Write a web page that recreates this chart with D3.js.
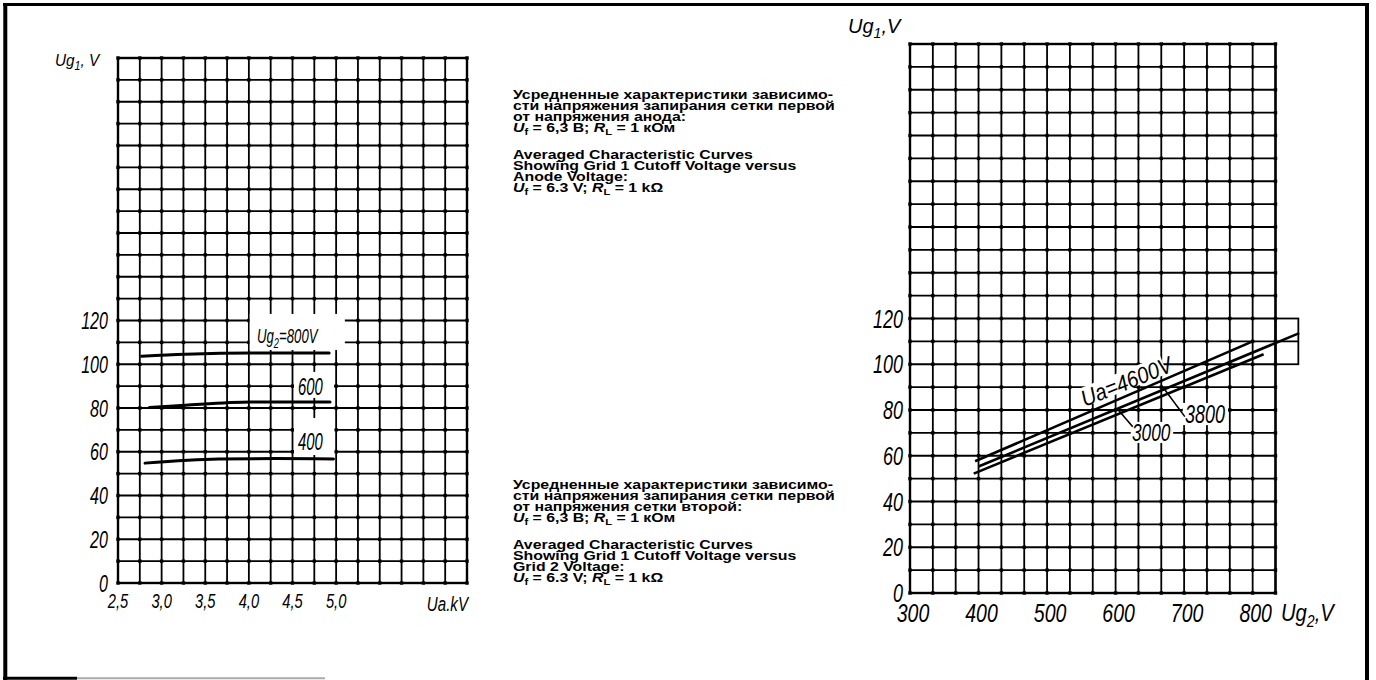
<!DOCTYPE html>
<html><head><meta charset="utf-8">
<script src="https://cdn.jsdelivr.net/npm/d3@7"></script>
<style>body{margin:0;background:#fff}svg{display:block}</style>
</head><body><svg id="c" width="1376" height="680"></svg>
<script>
// ---------- data ----------
const leftXTicks = [2.5, 3.0, 3.5, 4.0, 4.5, 5.0];
const leftXTickLabels = ["2,5", "3,0", "3,5", "4,0", "4,5", "5,0"];
const leftYTicks = [0, 20, 40, 60, 80, 100, 120];
const curveUg2_800 = [[2.77, 103.7], [3.27, 104.6], [4.03, 105.2], [4.92, 105.2]];
const curveUg2_600 = [[2.86, 80.2], [3.27, 81.3], [4.03, 82.8], [4.93, 82.8]];
const curveUg2_400 = [[2.81, 54.8], [3.65, 56.7], [4.3, 56.9], [4.97, 56.7]];

const rightXTicks = [300, 400, 500, 600, 700, 800];
const rightYTicks = [0, 20, 40, 60, 80, 100, 120];
const lineUa4600 = [[395, 57.6], [800, 110.0]];
const lineUa3800 = [[400, 55.3], [868, 113.6]];
const lineUa3000 = [[393, 52.2], [816, 104.4]];

const textBlock1 = [
  "Усредненные характеристики зависимо-",
  "сти напряжения запирания сетки первой",
  "от напряжения анода:"
];
const textBlock1en = ["Averaged Characteristic Curves", "Showing Grid 1 Cutoff Voltage versus", "Anode Voltage:"];
const textBlock2 = [
  "Усредненные характеристики зависимо-",
  "сти напряжения запирания сетки первой",
  "от напряжения сетки второй:"
];
const textBlock2en = ["Averaged Characteristic Curves", "Showing Grid 1 Cutoff Voltage versus", "Grid 2 Voltage:"];

// ---------- helpers ----------
const svg = d3.select('#c');
const FONT = '"Liberation Sans", Arial, Helvetica, sans-serif';

function label(parent, x, y, parts, o = {}) {
  const size = o.size || 22, sx = o.sx || 0.7, anchor = o.anchor || 'start', rot = o.rot || 0;
  const g = parent.append('g').attr('transform', `translate(${x},${y}) rotate(${rot}) scale(${sx},1)`);
  const t = g.append('text').attr('font-family', FONT).attr('font-size', size)
    .attr('font-style', o.italic === false ? 'normal' : 'italic')
    .attr('font-weight', o.weight || 'normal').attr('text-anchor', anchor).attr('fill', '#000');
  if (!Array.isArray(parts)) parts = [parts];
  let shift = 0;
  parts.forEach(p => {
    if (typeof p === 'string') p = { t: p };
    const ts = t.append('tspan').text(p.t);
    const target = p.sub ? size * 0.25 : 0;
    if (target !== shift) { ts.attr('dy', target - shift); shift = target; }
    if (p.sub) ts.attr('font-size', size * 0.7);
    if (p.i) ts.attr('font-style', 'italic');
  });
  return g;
}

function drawGrid(g, x, y, xs, ys) {
  const [x0, x1] = x.range(), [y0, y1] = y.range();
  g.selectAll(null).data(xs).enter().append('line')
    .attr('x1', d => x(d)).attr('x2', d => x(d)).attr('y1', y0).attr('y2', y1)
    .attr('stroke', '#000').attr('stroke-width', 1.8);
  g.selectAll(null).data(ys).enter().append('line')
    .attr('y1', d => y(d)).attr('y2', d => y(d)).attr('x1', x0).attr('x2', x1)
    .attr('stroke', '#000').attr('stroke-width', 1.8);
  const pts = d3.cross(xs, ys);
  g.selectAll(null).data(pts).enter().append('rect')
    .attr('x', d => x(d[0]) - 1.7).attr('y', d => y(d[1]) - 1.7).attr('width', 3.4).attr('height', 3.4).attr('fill', '#000');
  g.append('rect').attr('x', x0).attr('y', y1).attr('width', x1 - x0).attr('height', y0 - y1)
    .attr('fill', 'none').attr('stroke', '#000').attr('stroke-width', 2.4);
}

function mask(g, x, y, xa, xb, ya, yb) {
  g.append('rect').attr('x', x(xa)).attr('y', y(ya)).attr('width', x(xb) - x(xa)).attr('height', y(yb) - y(ya))
    .attr('fill', '#fff');
}

// ---------- outer frame ----------
svg.append('line').attr('x1', 3).attr('x2', 1369).attr('y1', 4.5).attr('y2', 4.5).attr('stroke', '#000').attr('stroke-width', 3);
svg.append('line').attr('x1', 5.3).attr('x2', 5.3).attr('y1', 3).attr('y2', 680).attr('stroke', '#000').attr('stroke-width', 4);
svg.append('line').attr('x1', 1367).attr('x2', 1367).attr('y1', 3).attr('y2', 680).attr('stroke', '#000').attr('stroke-width', 4);
svg.append('line').attr('x1', 3).attr('x2', 77).attr('y1', 678.3).attr('y2', 678.3).attr('stroke', '#000').attr('stroke-width', 3);
svg.append('line').attr('x1', 77).attr('x2', 325).attr('y1', 678.3).attr('y2', 678.3).attr('stroke', '#aaa').attr('stroke-width', 2);

// ---------- left chart ----------
const L = svg.append('g');
const xL = d3.scaleLinear().domain([2.5, 6.5]).range([118, 467]);
const yL = d3.scaleLinear().domain([0, 240]).range([583, 58]);
drawGrid(L, xL, yL, d3.range(0, 17).map(i => 2.5 + i * 0.25), d3.range(0, 241, 10));
mask(L, xL, yL, 4.01, 5.1, 123, 106.5);
mask(L, xL, yL, 4.517, 4.976, 96.5, 84.6);
mask(L, xL, yL, 4.517, 4.98, 75.4, 58.5);

const lineL = d3.line().x(d => xL(d[0])).y(d => yL(d[1])).curve(d3.curveMonotoneX);
[curveUg2_800, curveUg2_600, curveUg2_400].forEach(c => {
  L.append('path').attr('d', lineL(c)).attr('fill', 'none').attr('stroke', '#000').attr('stroke-width', 3).attr('stroke-linecap', 'round');
});

leftYTicks.forEach(v => label(L, 108, yL(v) + 8.5, String(v), { size: 23, sx: 0.7, anchor: 'end' }));
leftXTicks.forEach((v, i) => label(L, xL(v), 608, leftXTickLabels[i], { size: 21, sx: 0.7, anchor: 'middle' }));
label(L, 468, 611, "Ua.kV", { size: 21, sx: 0.72, anchor: 'end' });
label(L, 55, 66, ["Ug", { t: "1", sub: true }, ", V"], { size: 17, sx: 0.9 });
label(L, 257, 343, ["Ug", { t: "2", sub: true }, "=800V"], { size: 20, sx: 0.66 });
label(L, 298, 395, "600", { size: 24, sx: 0.62 });
label(L, 298, 450, "400", { size: 24, sx: 0.62 });

// ---------- right chart ----------
const R = svg.append('g');
const xR = d3.scaleLinear().domain([300, 300 + 16 * 100 / 3]).range([910, 1275.5]);
const yR = d3.scaleLinear().domain([0, 240]).range([593, 44]);
drawGrid(R, xR, yR, d3.range(0, 17).map(i => 300 + i * 100 / 3), d3.range(0, 241, 10));
// extension cell column
const ext0 = 300 + 16 * 100 / 3, ext1 = 300 + 17 * 100 / 3;
R.append('rect').attr('x', xR(ext0)).attr('y', yR(120)).attr('width', xR(ext1) - xR(ext0)).attr('height', yR(100) - yR(120))
  .attr('fill', 'none').attr('stroke', '#000').attr('stroke-width', 1.8);
R.append('line').attr('x1', xR(ext0)).attr('x2', xR(ext1)).attr('y1', yR(110)).attr('y2', yR(110)).attr('stroke', '#000').attr('stroke-width', 1.8);

// label masks
mask(R, xR, yR, 698, 764, 83.1, 73.4);
mask(R, xR, yR, 622, 684, 74.8, 65.6);
const uaX = xR(555), uaY = yR(81.3);
R.append('rect').attr('transform', `translate(${uaX},${uaY}) rotate(-22)`).attr('x', -3).attr('y', -19).attr('width', 92).attr('height', 19).attr('fill', '#fff');

const lineR = d3.line().x(d => xR(d[0])).y(d => yR(d[1]));
[lineUa4600, lineUa3800, lineUa3000].forEach(c => {
  R.append('path').attr('d', lineR(c)).attr('fill', 'none').attr('stroke', '#000').attr('stroke-width', 2.6);
});
R.append('path').attr('d', lineR([[670, 89.6], [701, 77.1]])).attr('stroke', '#000').attr('stroke-width', 1.6).attr('fill', 'none');
R.append('path').attr('d', lineR([[604, 80.0], [625, 72.7]])).attr('stroke', '#000').attr('stroke-width', 1.6).attr('fill', 'none');

label(R, uaX, uaY, "Ua=4600V", { size: 23, sx: 0.88, rot: -22 });
label(R, 1185, 423, "3800", { size: 25, sx: 0.72 });
label(R, 1132, 441, "3000", { size: 24, sx: 0.72 });

rightYTicks.forEach(v => label(R, 903, yR(v) + 9, String(v), { size: 25, sx: 0.72, anchor: 'end' }));
rightXTicks.forEach(v => label(R, xR(v) + 3, 622, String(v), { size: 25, sx: 0.78, anchor: 'middle' }));
label(R, 1281, 621, ["Ug", { t: "2", sub: true }, ",V"], { size: 23, sx: 0.88 });
label(R, 848, 33, ["Ug", { t: "1", sub: true }, ",V"], { size: 20, sx: 1.0 });

// ---------- middle text ----------
const T = svg.append('g');
function block(lines, en, y0) {
  const opt = { size: 12.5, sx: 1.27, italic: false, weight: 'bold' };
  lines.forEach((s, i) => label(T, 513, y0 + i * 11, s, opt));
  label(T, 513, y0 + 33, [{ t: "U", i: true }, { t: "f", sub: true }, " = 6,3 В; ", { t: "R", i: true }, { t: "L", sub: true }, " = 1 кОм"], opt);
  en.forEach((s, i) => label(T, 513, y0 + 60 + i * 11, s, opt));
  label(T, 513, y0 + 93, [{ t: "U", i: true }, { t: "f", sub: true }, " = 6.3 V; ", { t: "R", i: true }, { t: "L", sub: true }, " = 1 kΩ"], opt);
}
block(textBlock1, textBlock1en, 99);
block(textBlock2, textBlock2en, 489);
</script></body></html>
